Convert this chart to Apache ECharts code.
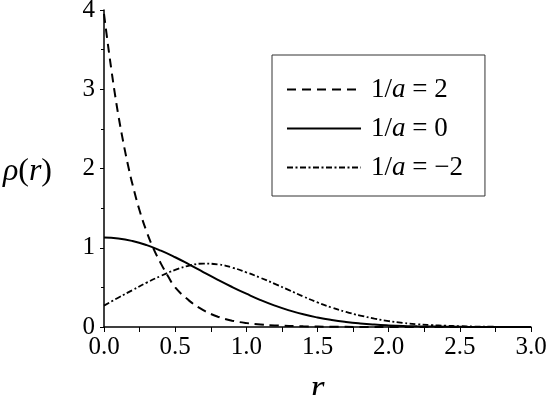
<!DOCTYPE html>
<html>
<head>
<meta charset="utf-8">
<script src="https://cdn.jsdelivr.net/npm/echarts@6/dist/echarts.min.js"></script>
<style>html,body{margin:0;padding:0;background:#fff;}#c{width:546px;height:395px;}</style>
</head>
<body>
<div id="c"></div>
<script>
// r values for the steep dashed curve (1/a = 2)
var rDense = [0, 0.025, 0.05, 0.075, 0.1, 0.125, 0.15, 0.175, 0.2, 0.25, 0.3, 0.35, 0.4, 0.45, 0.5, 0.6, 0.7, 0.8, 0.9, 1.0, 1.1, 1.2, 1.4, 1.6, 1.8, 2.0, 2.5, 3.0];
var rhoPos2 = [3.95, 3.6, 3.27, 2.96, 2.68, 2.43, 2.2, 1.99, 1.8, 1.47, 1.2, 0.98, 0.80, 0.64, 0.5, 0.33, 0.21, 0.13, 0.08, 0.05, 0.032, 0.02, 0.008, 0.003, 0.001, 0.0003, 0, 0];

// r values for the other curves
var rGrid = [0, 0.1, 0.2, 0.3, 0.4, 0.5, 0.6, 0.7, 0.8, 0.9, 1.0, 1.1, 1.2, 1.3, 1.4, 1.5, 1.6, 1.7, 1.8, 1.9, 2.0, 2.1, 2.2, 2.3, 2.4, 2.5, 2.6, 2.7, 2.8, 2.9, 3.0];
var rhoZero = [1.128, 1.117, 1.085, 1.033, 0.963, 0.88, 0.787, 0.69, 0.595, 0.505, 0.42, 0.34, 0.27, 0.21, 0.16, 0.12, 0.088, 0.063, 0.044, 0.030, 0.020, 0.013, 0.009, 0.006, 0.004, 0.002, 0.001, 0.0005, 0, 0, 0];
var rhoNeg2 = [0.27, 0.37, 0.465, 0.56, 0.645, 0.72, 0.775, 0.80, 0.79, 0.75, 0.69, 0.62, 0.545, 0.465, 0.385, 0.31, 0.245, 0.19, 0.145, 0.105, 0.075, 0.052, 0.035, 0.024, 0.016, 0.010, 0.006, 0.004, 0.002, 0.001, 0];

var seriesNames = ['1/a = 2', '1/a = 0', '1/a = -2'];
var legendLabels = ['1/{i|a} = 2', '1/{i|a} = 0', '1/{i|a} = \u22122'];
var xTicks = ['0.0', '0.5', '1.0', '1.5', '2.0', '2.5', '3.0'];
var yTicks = ['0', '1', '2', '3', '4'];

function zip(xs, ys) { return xs.map(function (x, i) { return [x, ys[i]]; }); }

var serif = 'Liberation Serif, Times New Roman, serif';
var chart = echarts.init(document.getElementById('c'), null, {renderer: 'canvas'});
chart.setOption({
  animation: false,
  backgroundColor: '#fff',
  grid: {left: 104, right: 15, top: 10, bottom: 68, containLabel: false, outerBoundsMode: 'none'},
  xAxis: {
    type: 'value', min: 0, max: 3, interval: 0.5,
    name: 'r', nameLocation: 'middle', nameGap: 45,
    nameTextStyle: {fontFamily: serif, fontSize: 36, fontStyle: 'italic', color: '#000'},
    axisLine: {show: true, onZero: false, lineStyle: {color: '#000', width: 1.5}},
    axisTick: {show: true, inside: false, length: 5, lineStyle: {color: '#000', width: 1}},
    minorTick: {show: true, splitNumber: 2, length: 5, lineStyle: {color: '#000', width: 1}},
    splitLine: {show: false},
    axisLabel: {fontFamily: serif, fontSize: 25, color: '#000', margin: 8,
      formatter: function (v) { var i = Math.round(v / 0.5); return xTicks[i] !== undefined ? xTicks[i] : ''; }}
  },
  yAxis: {
    type: 'value', min: 0, max: 4, interval: 1,
    name: '{i|\u03c1}({i|r})', nameLocation: 'middle', nameGap: 52, nameRotate: 0,
    nameTextStyle: {fontFamily: serif, fontSize: 32, color: '#000', align: 'right', padding: [6, 0, 0, 0],
      rich: {i: {fontFamily: serif, fontSize: 32, fontStyle: 'italic', color: '#000'}}},
    axisLine: {show: true, onZero: false, lineStyle: {color: '#000', width: 1.5}},
    axisTick: {show: true, inside: false, length: 4, lineStyle: {color: '#000', width: 1}},
    minorTick: {show: true, splitNumber: 2, length: 3, lineStyle: {color: '#000', width: 1}},
    splitLine: {show: false},
    axisLabel: {fontFamily: serif, fontSize: 25, color: '#000', margin: 9,
      formatter: function (v) { var i = Math.round(v); return yTicks[i] !== undefined ? yTicks[i] : ''; }}
  },
  legend: {
    show: true, orient: 'vertical', left: 272, top: 55,
    padding: [19, 22, 13, 14],
    borderColor: '#333', borderWidth: 1,
    itemWidth: 74, itemHeight: 14, itemGap: 8,
    data: seriesNames,
    itemStyle: {color: 'rgba(0,0,0,0)', borderColor: 'rgba(0,0,0,0)', borderWidth: 0, opacity: 0},
    formatter: function (name) { return legendLabels[seriesNames.indexOf(name)]; },
    textStyle: {fontFamily: serif, fontSize: 27, color: '#000', lineHeight: 31, padding: [0, 0, 0, 5],
      rich: {i: {fontFamily: serif, fontSize: 27, fontStyle: 'italic', color: '#000'}}}
  },
  series: [
    {name: seriesNames[0], type: 'line', data: zip(rDense, rhoPos2), showSymbol: false, symbol: 'none', smooth: 0.4,
      lineStyle: {color: '#000', width: 2, type: [9, 6]}, itemStyle: {color: '#000'}},
    {name: seriesNames[1], type: 'line', data: zip(rGrid, rhoZero), showSymbol: false, symbol: 'none', smooth: 0.5,
      lineStyle: {color: '#000', width: 2, type: 'solid'}, itemStyle: {color: '#000'}},
    {name: seriesNames[2], type: 'line', data: zip(rGrid, rhoNeg2), showSymbol: false, symbol: 'none', smooth: 0.5,
      lineStyle: {color: '#000', width: 1.8, type: [6, 2.5, 2, 2.5]}, itemStyle: {color: '#000'}}
  ]
});
</script>
</body>
</html>
